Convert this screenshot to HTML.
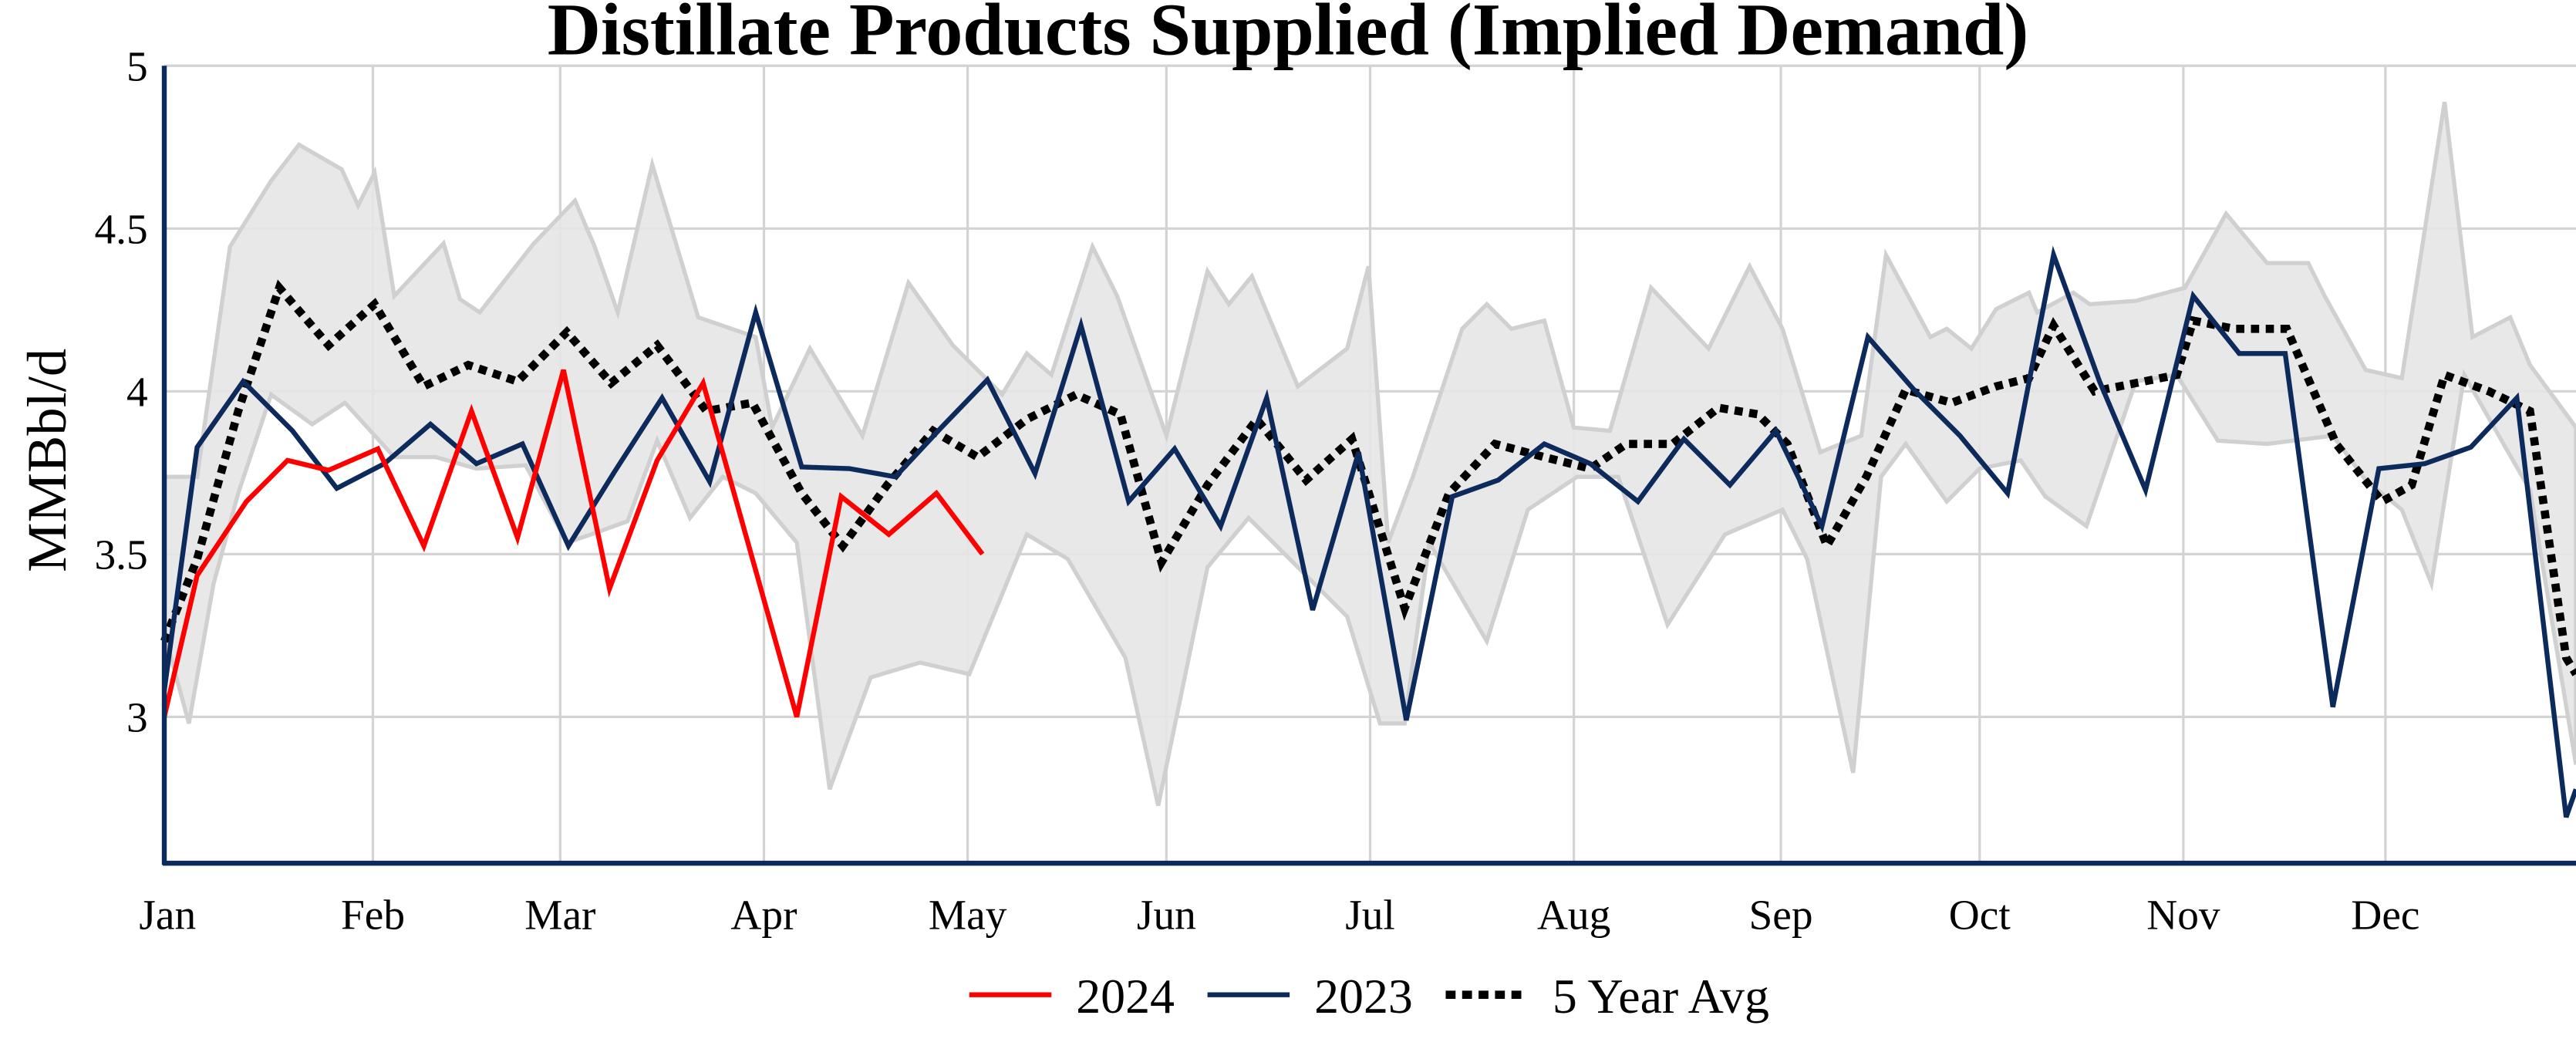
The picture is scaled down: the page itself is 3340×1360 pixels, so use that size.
<!DOCTYPE html>
<html><head><meta charset="utf-8"><style>
html,body{margin:0;padding:0;background:#fff;}
svg{display:block;}
text{font-family:"Liberation Serif",serif;fill:#000;}
</style></head><body>
<svg width="3340" height="1360" viewBox="0 0 1568 638" preserveAspectRatio="none" xmlns="http://www.w3.org/2000/svg">
<rect width="1568" height="638" fill="#fff"/>
<g stroke="#d3d3d3" stroke-width="1.5">
<line x1="227" y1="40" x2="227" y2="525"/><line x1="341" y1="40" x2="341" y2="525"/><line x1="465" y1="40" x2="465" y2="525"/><line x1="589" y1="40" x2="589" y2="525"/><line x1="710" y1="40" x2="710" y2="525"/><line x1="834" y1="40" x2="834" y2="525"/><line x1="958" y1="40" x2="958" y2="525"/><line x1="1084" y1="40" x2="1084" y2="525"/><line x1="1205" y1="40" x2="1205" y2="525"/><line x1="1329" y1="40" x2="1329" y2="525"/><line x1="1452" y1="40" x2="1452" y2="525"/>
<line x1="100" y1="40" x2="1568" y2="40"/><line x1="100" y1="139" x2="1568" y2="139"/><line x1="100" y1="238" x2="1568" y2="238"/><line x1="100" y1="337" x2="1568" y2="337"/><line x1="100" y1="436" x2="1568" y2="436"/>
</g>
<path fill="#e6e6e6" fill-opacity="0.9" stroke="#d0d0d0" stroke-width="2.5" d="M100,290 L120,290 L140,150 L165,110 L182,88 L208,103 L218,125 L228,105 L240,180 L270,148 L280,182 L292,190 L325,148 L350,122 L362,150 L376,190 L397,100 L425,193 L460,205 L470,260 L493,212 L525,265 L553,172 L580,210 L610,240 L625,215 L640,228 L665,150 L680,180 L710,265 L735,165 L748,185 L762,168 L790,235 L820,212 L833,162 L845,330 L860,290 L890,200 L905,185 L920,200 L940,195 L958,260 L980,262 L1005,175 L1040,212 L1065,162 L1085,200 L1108,275 L1133,265 L1148,155 L1175,205 L1185,200 L1200,212 L1215,188 L1235,178 L1240,190 L1262,178 L1272,185 L1300,183 L1330,175 L1355,130 L1380,160 L1405,160 L1415,180 L1440,225 L1462,230 L1488,62 L1505,205 L1528,193 L1540,222 L1568,260 L1568,465 L1540,298 L1525,272 L1500,228 L1480,355 L1462,310 L1440,292 L1420,265 L1380,270 L1350,268 L1325,228 L1300,232 L1270,320 L1245,302 L1230,280 L1205,285 L1185,305 L1160,270 L1145,290 L1128,470 L1100,340 L1085,310 L1050,325 L1015,380 L985,290 L960,290 L930,310 L905,390 L870,330 L855,440 L840,440 L820,375 L790,345 L760,315 L735,345 L705,490 L685,400 L650,340 L625,325 L590,410 L560,403 L530,412 L505,480 L485,330 L460,300 L440,290 L420,315 L400,268 L382,317 L360,325 L345,330 L320,283 L290,285 L265,278 L240,278 L210,245 L190,258 L165,240 L145,300 L130,355 L115,440 L100,385 Z"/>
<polyline fill="none" stroke="#000" stroke-width="5" stroke-dasharray="5,4" points="100,390 120,340 145,250 170,175 200,210 228,185 258,235 285,222 315,232 345,202 372,233 400,210 430,250 458,245 488,300 513,332 540,295 568,262 595,278 625,255 655,240 682,252 707,342 735,295 765,255 795,292 823,267 855,370 882,300 910,270 940,278 968,285 990,270 1018,270 1046,248 1070,252 1088,270 1112,332 1136,290 1160,237 1188,245 1215,235 1235,230 1250,198 1275,238 1300,233 1325,228 1335,195 1360,200 1392,200 1422,270 1450,305 1468,295 1488,228 1515,238 1540,250 1562,400 1568,410"/>
<polyline fill="none" stroke="#0d2a5c" stroke-width="3" points="100,420 120,272 148,232 178,262 205,297 234,282 262,258 290,282 318,270 346,332 374,287 403,242 432,293 460,190 488,284 517,285 545,290 573,260 601,231 630,288 658,198 687,305 715,273 743,320 771,242 799,371 827,275 856,438 884,302 912,292 940,270 968,282 997,305 1025,267 1053,295 1081,262 1109,320 1137,205 1165,237 1193,265 1222,300 1250,155 1278,232 1306,298 1335,180 1363,215 1391,215 1420,430 1448,285 1476,282 1504,272 1532,242 1562,497 1568,480"/>
<polyline fill="none" stroke="#ff0000" stroke-width="3" points="100,436 120,350 150,305 175,280 200,286 230,273 258,332 287,250 315,327 343,225 371,358 400,280 428,233 485,436 512,302 541,325 570,300 598,337"/>
<line x1="100" y1="40" x2="100" y2="526" stroke="#0d2a5c" stroke-width="3"/>
<line x1="99" y1="525" x2="1568" y2="525" stroke="#0d2a5c" stroke-width="3"/>
<g font-size="26" text-anchor="end">
<text x="90" y="49">5</text><text x="90" y="148">4.5</text><text x="90" y="247">4</text><text x="90" y="346">3.5</text><text x="90" y="445">3</text>
</g>
<g font-size="26" text-anchor="middle">
<text x="102" y="565">Jan</text><text x="227" y="565">Feb</text><text x="341" y="565">Mar</text><text x="465" y="565">Apr</text><text x="589" y="565">May</text><text x="710" y="565">Jun</text><text x="834" y="565">Jul</text><text x="958" y="565">Aug</text><text x="1084" y="565">Sep</text><text x="1205" y="565">Oct</text><text x="1329" y="565">Nov</text><text x="1452" y="565">Dec</text>
</g>
<text x="40" y="280" font-size="34" text-anchor="middle" transform="rotate(-90 40 280)">MMBbl/d</text>
<text x="784" y="33" font-size="45" font-weight="bold" text-anchor="middle">Distillate Products Supplied (Implied Demand)</text>
<line x1="590" y1="605" x2="640" y2="605" stroke="#ff0000" stroke-width="3"/>
<text x="655" y="616" font-size="30">2024</text>
<line x1="735" y1="605" x2="785" y2="605" stroke="#0d2a5c" stroke-width="3"/>
<text x="800" y="616" font-size="30">2023</text>
<line x1="880" y1="605" x2="930" y2="605" stroke="#000" stroke-width="5" stroke-dasharray="6,4"/>
<text x="945" y="616" font-size="30">5 Year Avg</text>
</svg>
</body></html>
